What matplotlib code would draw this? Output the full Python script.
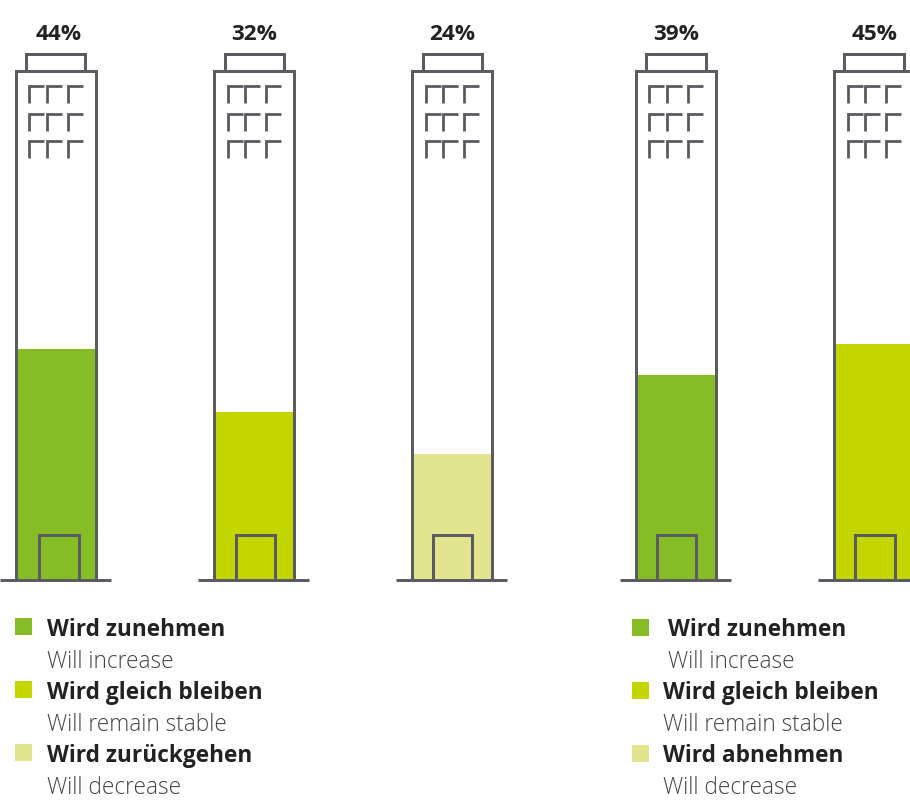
import matplotlib
matplotlib.use('Agg')
import matplotlib.pyplot as plt
from matplotlib.patches import Rectangle

plt.rcParams['font.family'] = ['Open Sans', 'DejaVu Sans']

# chart values
values = [44, 32, 24, 39, 45]
value_labels = ['44%', '32%', '24%', '39%', '45%']
bar_colors = ['#86bc25', '#c4d600', '#e3e48f', '#86bc25', '#c4d600']

# legend text
legend_de_left = ['Wird zunehmen', 'Wird gleich bleiben', 'Wird zurückgehen']
legend_de_right = ['Wird zunehmen', 'Wird gleich bleiben', 'Wird abnehmen']
legend_en = ['Will increase', 'Will remain stable', 'Will decrease']
legend_colors = ['#86bc25', '#c4d600', '#e3e48f']

W, H = 910, 803
BASE = 581        # pixel row of the ground line
PX_PER_PCT = 5.25
LINE = '#5a5c61'

# building layout in pixels
lefts = [15.5, 214.3, 412.2, 635.8, 834]
door_x = [39, 235.5, 432.7, 656.5, 855]
label_x = [58.5, 254.5, 452.5, 676.5, 874.5]

fig = plt.figure(figsize=(W / 100, H / 100), dpi=100)

# bars live on a percent axis, lined up so 0 sits on the ground line
ax = fig.add_axes([0, 0, 1, 1])
ax.set_xlim(0, W)
ax.set_ylim(-(H - BASE) / PX_PER_PCT, BASE / PX_PER_PCT)
ax.axis('off')
ax.bar([x + 40 for x in lefts], values, width=80, color=bar_colors, linewidth=0)

# outlines and text on a pixel overlay
px = fig.add_axes([0, 0, 1, 1])
px.set_xlim(0, W)
px.set_ylim(H, 0)
px.axis('off')
px.patch.set_alpha(0)


def stroke(xs, ys, width=3.0):
    px.plot(xs, ys, color=LINE, lw=width * 0.72, solid_capstyle='butt',
            solid_joinstyle='miter', clip_on=True)


for left, door, lab_x, lab in zip(lefts, door_x, label_x, value_labels):
    # ground
    stroke([left - 16, left + 95], [BASE, BASE])
    # body
    stroke([left, left, left + 80, left + 80], [BASE, 71.5, 71.5, BASE])
    # roof box
    stroke([left + 10.3, left + 10.3, left + 69.7, left + 69.7], [71.5, 54.7, 54.7, 71.5])
    # door
    stroke([door, door, door + 39.5, door + 39.5], [BASE, 536, 536, BASE])
    # windows
    for wy in [87, 114.5, 142]:
        for wx in [13.5, 31, 52]:
            stroke([left + wx, left + wx, left + wx + 15], [wy + 17, wy, wy], 2.8)
    px.text(lab_x, 34.5, lab, ha='center', va='center', fontsize=16.2,
            fontweight='bold', color='#222222')


def draw_legend(square_x, text_x, square_y, names):
    for i in range(3):
        px.add_patch(Rectangle((square_x, square_y + i * 63), 17, 17,
                               color=legend_colors[i], lw=0))
        px.text(text_x[i], 630.5 + i * 63, names[i], ha='left', va='center',
                fontsize=16.3, fontweight='bold', color='#222222')
        px.text(text_x[i], 662.5 + i * 63, legend_en[i], ha='left', va='center',
                fontsize=16.3, fontweight='light', color='#444444')


draw_legend(15, [47, 47, 47], 619, legend_de_left)
draw_legend(632, [668, 663, 663], 620, legend_de_right)

fig.savefig('out.png', dpi=100)
